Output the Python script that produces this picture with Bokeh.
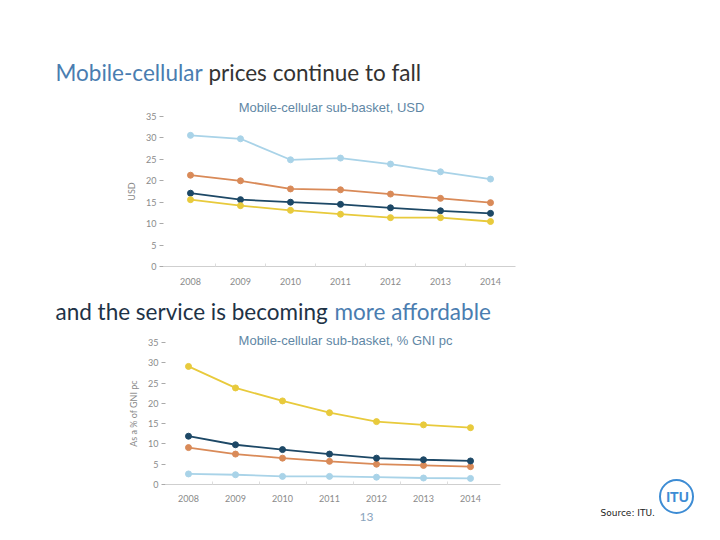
from bokeh.plotting import figure
from bokeh.models import Label, Range1d, FixedTicker, LinearAxis
from bokeh.embed import file_html
from bokeh.resources import INLINE

YEARS = [2008, 2009, 2010, 2011, 2012, 2013, 2014]
Y_TICKS = [0, 5, 10, 15, 20, 25, 30, 35]

USD_LIGHTBLUE = [30.6, 29.8, 24.9, 25.3, 23.9, 22.1, 20.4]
USD_ORANGE = [21.3, 20.0, 18.1, 17.9, 16.9, 15.9, 14.9]
USD_NAVY = [17.1, 15.6, 15.0, 14.5, 13.7, 13.0, 12.4]
USD_YELLOW = [15.6, 14.2, 13.1, 12.2, 11.4, 11.4, 10.5]

GNI_YELLOW = [29.1, 23.8, 20.6, 17.7, 15.5, 14.7, 14.0]
GNI_NAVY = [11.9, 9.8, 8.6, 7.5, 6.5, 6.1, 5.8]
GNI_ORANGE = [9.1, 7.5, 6.5, 5.7, 5.0, 4.7, 4.4]
GNI_LIGHTBLUE = [2.6, 2.4, 2.0, 2.0, 1.8, 1.6, 1.5]

C_LIGHT = "#a9d3e8"
C_ORANGE = "#d98a58"
C_NAVY = "#1d4866"
C_YELLOW = "#e8ca3c"

W, H = 720, 540
BLUE_TXT = "#4a7db0"
DARK_TXT = "#333333"
NAVY_TXT = "#1e3246"
SUB_TXT = "#5f87a5"
TICK_TXT = "#8a8a8a"
LOGO_BLUE = "#3d8cd4"

# Page canvas: one figure, frame = whole canvas, pixel coordinates from top-left
p = figure(width=W, height=H, x_range=Range1d(0, W), y_range=Range1d(H, 0),
           x_axis_location=None, y_axis_location=None,
           output_backend="svg", toolbar_location=None,
           min_border=0, min_border_left=0, min_border_right=0,
           min_border_top=0, min_border_bottom=0)
p.outline_line_color = None
p.background_fill_color = "white"
p.border_fill_color = "white"
p.xgrid.grid_line_color = None
p.ygrid.grid_line_color = None


def add_chart(name, px_first, px_last, py_zero, py_top, axis_left_px, axis_right_px,
              series, ylabel, xlabel_standoff):
    # map chart data ranges so that years / values land at the given pixel anchors
    xs = (px_last - px_first) / (YEARS[-1] - YEARS[0])
    x0 = YEARS[0] - px_first / xs
    x1 = x0 + W / xs
    ys = (py_zero - py_top) / (Y_TICKS[-1] - Y_TICKS[0])
    y0 = Y_TICKS[0] - (H - py_zero) / ys
    y1 = Y_TICKS[0] + py_zero / ys
    xn, yn = "x_" + name, "y_" + name
    p.extra_x_ranges[xn] = Range1d(x0, x1)
    p.extra_y_ranges[yn] = Range1d(y0, y1)
    xa_lo = x0 + axis_left_px / xs
    xa_hi = x0 + axis_right_px / xs

    for vals, col in series:
        p.line(YEARS, vals, line_color=col, line_width=1.8,
               x_range_name=xn, y_range_name=yn)
        p.scatter(YEARS, vals, size=6, fill_color=col, line_color=col,
                  x_range_name=xn, y_range_name=yn)

    xa = LinearAxis(x_range_name=xn, y_range_name=yn, fixed_location=Y_TICKS[0],
                    bounds=(xa_lo, xa_hi),
                    ticker=FixedTicker(ticks=YEARS,
                                       minor_ticks=[y + 0.5 for y in YEARS[:-1]]))
    xa.axis_line_color = "#cfcfcf"
    xa.axis_line_width = 1.2
    xa.major_tick_line_color = None
    xa.minor_tick_line_color = "#dddddd"
    xa.minor_tick_out = 0
    xa.minor_tick_in = 3
    xa.major_label_text_font = "Lato"
    xa.major_label_text_font_size = "9px"
    xa.major_label_text_color = TICK_TXT
    xa.major_label_standoff = xlabel_standoff
    p.add_layout(xa, "below")

    ya = LinearAxis(x_range_name=xn, y_range_name=yn, fixed_location=xa_lo,
                    bounds=(Y_TICKS[0], Y_TICKS[-1]), ticker=FixedTicker(ticks=Y_TICKS))
    ya.axis_line_color = None
    ya.major_tick_line_color = "#aaaaaa"
    ya.major_tick_out = 4
    ya.major_tick_in = 0
    ya.minor_tick_line_color = None
    ya.major_label_text_font = "Lato"
    ya.major_label_text_font_size = "9px"
    ya.major_label_text_color = TICK_TXT
    ya.major_label_standoff = 3
    ya.axis_label = ylabel
    ya.axis_label_text_font = "Lato"
    ya.axis_label_text_font_size = "9px"
    ya.axis_label_text_font_style = "normal"
    ya.axis_label_text_color = TICK_TXT
    ya.axis_label_standoff = 6
    p.add_layout(ya, "left")


def lab(x, y, text, color, size, font="Lato", align="left", style="normal"):
    p.add_layout(Label(x=x, y=y, text=text, text_color=color, text_font=font,
                       text_font_size=size, text_align=align, text_baseline="middle",
                       text_font_style=style))


add_chart("usd", px_first=190, px_last=490, py_zero=266, py_top=116,
          axis_left_px=163, axis_right_px=515,
          series=[(USD_LIGHTBLUE, C_LIGHT), (USD_ORANGE, C_ORANGE),
                  (USD_NAVY, C_NAVY), (USD_YELLOW, C_YELLOW)],
          ylabel="USD", xlabel_standoff=5)

add_chart("gni", px_first=188, px_last=470, py_zero=484, py_top=342,
          axis_left_px=165, axis_right_px=500,
          series=[(GNI_LIGHTBLUE, C_LIGHT), (GNI_ORANGE, C_ORANGE),
                  (GNI_NAVY, C_NAVY), (GNI_YELLOW, C_YELLOW)],
          ylabel="As a % of GNI pc", xlabel_standoff=4)

lab(55, 72, "Mobile-cellular", BLUE_TXT, "22.5px")
lab(208, 72, "prices continue to fall", DARK_TXT, "22.5px")
lab(331, 107, "Mobile-cellular sub-basket, USD", SUB_TXT, "13px",
    font="Liberation Sans", align="center")

lab(55, 311, "and the service is becoming", NAVY_TXT, "22.5px")
lab(334, 311, "more affordable", BLUE_TXT, "22.5px")
lab(345, 340, "Mobile-cellular sub-basket, % GNI pc", SUB_TXT, "13px",
    font="Liberation Sans", align="center")

lab(366, 516, "13", "#8aa4bd", "12px", align="center")
lab(600, 512, "Source: ITU.", "#222222", "9px", font="DejaVu Sans")

# ITU logo (simplified): ring + letters
p.scatter([676], [496], marker="circle", size=33, fill_color=None,
          line_color=LOGO_BLUE, line_width=2)
lab(677, 496, "ITU", LOGO_BLUE, "14px", font="Liberation Sans",
    align="center", style="bold")

open("out.html", "w").write(file_html(p, INLINE))
